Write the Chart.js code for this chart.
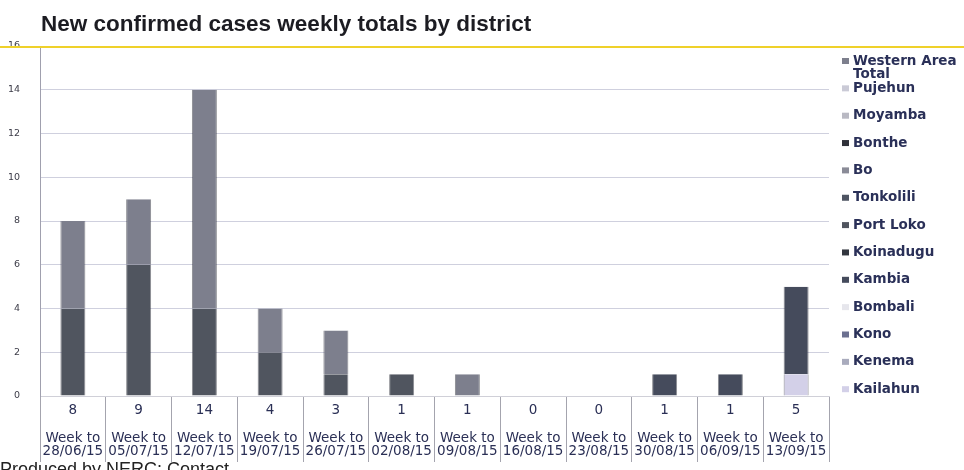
<!DOCTYPE html>
<html>
<head>
<meta charset="utf-8">
<script src="https://cdn.jsdelivr.net/npm/chart.js@4.4.0/dist/chart.umd.min.js"></script>
<style>
  html, body { margin: 0; padding: 0; background: #fff; overflow: hidden; }
  #wrap { position: relative; width: 964px; height: 470px; overflow: hidden; }
  #title { position: absolute; left: 41px; top: 11px; font: bold 22.5px "Liberation Sans", Arial, sans-serif; color: #1c1c22; white-space: nowrap; }
  #foot { position: absolute; left: 0px; top: 459px; font: 18px "Liberation Sans", Arial, sans-serif; color: #222; white-space: nowrap; }
  canvas { position: absolute; left: 0; top: 0; }
</style>
</head>
<body>
<div id="wrap">
  <canvas id="myChart" width="964" height="470"></canvas>
  <div id="title">New confirmed cases weekly totals by district</div>
  <div id="foot">Produced by NERC: Contact</div>
</div>
<script>
  // weeks and the totals row of the data table
  let weeks = ['28/06/15', '05/07/15', '12/07/15', '19/07/15', '26/07/15', '02/08/15',
               '09/08/15', '16/08/15', '23/08/15', '30/08/15', '06/09/15', '13/09/15'];
  let weekTotals = [8, 9, 14, 4, 3, 1, 1, 0, 0, 1, 1, 5];
  let yTicks = [0, 2, 4, 6, 8, 10, 12, 14, 16];

  // stacked from the bottom up
  let districts = ['Kailahun', 'Kenema', 'Kono', 'Bombali', 'Kambia', 'Koinadugu', 'Port Loko',
                   'Tonkolili', 'Bo', 'Bonthe', 'Moyamba', 'Pujehun', 'Western Area\nTotal'];
  let kailahun  = [0, 0, 0, 0, 0, 0, 0, 0, 0, 0, 0, 1];
  let kenema    = [0, 0, 0, 0, 0, 0, 0, 0, 0, 0, 0, 0];
  let kono      = [0, 0, 0, 0, 0, 0, 0, 0, 0, 0, 0, 0];
  let bombali   = [0, 0, 0, 0, 0, 0, 0, 0, 0, 0, 0, 0];
  let kambia    = [0, 0, 0, 0, 0, 0, 0, 0, 0, 1, 1, 4];
  let koinadugu = [0, 0, 0, 0, 0, 0, 0, 0, 0, 0, 0, 0];
  let portLoko  = [4, 6, 4, 2, 1, 1, 0, 0, 0, 0, 0, 0];
  let tonkolili = [0, 0, 0, 0, 0, 0, 0, 0, 0, 0, 0, 0];
  let bo        = [0, 0, 0, 0, 0, 0, 0, 0, 0, 0, 0, 0];
  let bonthe    = [0, 0, 0, 0, 0, 0, 0, 0, 0, 0, 0, 0];
  let moyamba   = [0, 0, 0, 0, 0, 0, 0, 0, 0, 0, 0, 0];
  let pujehun   = [0, 0, 0, 0, 0, 0, 0, 0, 0, 0, 0, 0];
  let western   = [4, 3, 10, 2, 2, 0, 1, 0, 0, 0, 0, 0];

  let seriesData = [kailahun, kenema, kono, bombali, kambia, koinadugu, portLoko,
                    tonkolili, bo, bonthe, moyamba, pujehun, western];
  let colors = ['#d3d0e8', '#a9abbd', '#6c7090', '#e6e6ec', '#454b5c', '#32363f', '#50555f',
                '#4e5462', '#8a8b97', '#2f3139', '#b9b9c3', '#cacad6', '#7d7f8d'];

  let tableLabels = weeks.map((w, i) => [String(weekTotals[i]), '', 'Week to', w]);

  // hand drawn legend on the right (two line label for Western Area)
  let sideLegend = {
    id: 'sideLegend',
    afterDraw(chart) {
      let ctx = chart.ctx;
      let ds = chart.data.datasets;
      ctx.save();
      ctx.font = 'bold 13.5px "DejaVu Sans", sans-serif';
      ctx.textBaseline = 'middle';
      ctx.textAlign = 'left';
      for (let i = 0; i < ds.length; i++) {
        let d = ds[ds.length - 1 - i];
        let y = 61 + i * 27.35;
        ctx.fillStyle = d.backgroundColor;
        ctx.fillRect(842, y - 3, 7, 6);
        ctx.fillStyle = '#2a3058';
        d.label.split('\n').forEach((t, k) => ctx.fillText(t, 853, y + k * 13));
      }
      ctx.restore();
    }
  };

  // yellow rule of the slide, sits on the 16 line
  let topRule = {
    id: 'topRule',
    afterDraw(chart) {
      let ctx = chart.ctx;
      let y = chart.scales.y.getPixelForValue(16);
      ctx.save();
      ctx.strokeStyle = '#efd12a';
      ctx.lineWidth = 2;
      ctx.beginPath();
      ctx.moveTo(0, y + 1);
      ctx.lineTo(chart.width, y + 1);
      ctx.stroke();
      ctx.restore();
    }
  };

  let myChart = document.getElementById('myChart').getContext('2d');
  let chart = new Chart(myChart, {
    type: 'bar',
    data: {
      labels: tableLabels,
      datasets: districts.map((name, i) => ({
        label: name,
        data: seriesData[i],
        backgroundColor: colors[i],
        borderColor: 'rgba(40,42,52,0.55)',
        borderWidth: { left: 1, right: 1, top: 0, bottom: 0 },
        categoryPercentage: 1,
        barPercentage: 0.38
      }))
    },
    options: {
      responsive: false,
      animation: false,
      layout: { padding: { top: 46, bottom: 4, left: 0, right: 135 } },
      plugins: {
        legend: { display: false },
        title: { display: false },
        tooltip: { enabled: false }
      },
      scales: {
        x: {
          stacked: true,
          grid: {
            offset: true,
            drawOnChartArea: false,
            drawTicks: true,
            tickLength: 66,
            tickColor: '#a4a4ae'
          },
          border: { display: true, color: '#d0d0d8' },
          ticks: {
            padding: -58,
            maxRotation: 0,
            autoSkip: false,
            color: '#2a2f55',
            font: { family: '"DejaVu Sans", sans-serif', size: 13.5, lineHeight: 1.01 }
          },
          afterFit: s => { s.height = 70; }
        },
        y: {
          stacked: true,
          min: 0,
          max: 16,
          afterBuildTicks: s => { s.ticks = yTicks.map(v => ({ value: v })); },
          grid: {
            drawTicks: false,
            color: c => (c.tick && c.tick.value === 16) ? 'rgba(0,0,0,0)' : '#cfd0de'
          },
          border: { display: true, color: '#a0a0ae' },
          ticks: {
            padding: 20,
            color: '#3c3c48',
            font: { family: '"DejaVu Sans", sans-serif', size: 9.5 }
          },
          afterFit: s => { s.width = 40; }
        }
      }
    },
    plugins: [topRule, sideLegend]
  });
</script>
</body>
</html>
